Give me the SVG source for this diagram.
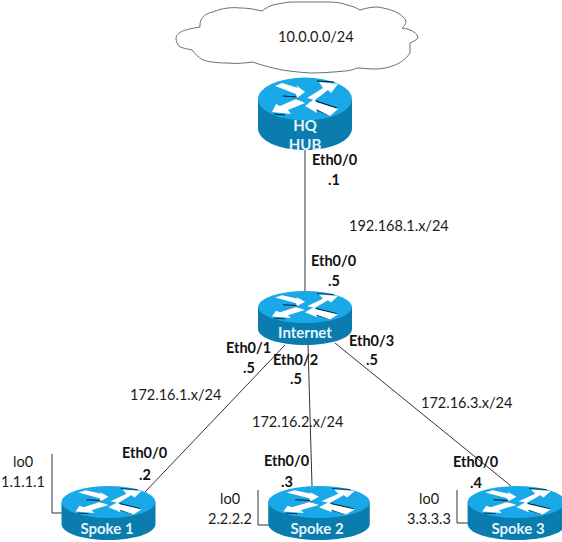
<svg xmlns="http://www.w3.org/2000/svg" width="562" height="542" viewBox="0 0 562 542">
<style>
text{font-family:Lato,"Liberation Sans",Arial,sans-serif;font-size:14.500px;fill:#1a1a1a}
.b{font-weight:bold;fill:#111}
.n{font-weight:bold;fill:#e4f4fa;font-size:15px}
.c{fill:none;stroke:#333;stroke-width:1}
</style>
<defs>
<g id="top">
<ellipse rx="47" ry="21.500" fill="#1aa9e8"/>
<path fill="none" stroke="#0a1a24" stroke-width="1.200" d="M-22-3-8-2M-22 7-7 0M-20 16-31 15M12-18 29-17M10-2 25-11M11 2 32 9M12 11 24 16"/>
<path fill="#fff" d="M-30-13-23-16-7-11-9-14 0-7-8-1-9-5ZM2-1 18-11 14-17 33-15 26-6 23-9 10 1ZM-33 13-29 5-25 7-9 0 0 4-17 11-14 15ZM0 7 9 0 11 3 33 10 25 17 11 10 12 14Z"/>
</g>
<path id="bodyH" fill="#0b7cae" d="M-47 0V29C-47 42-26 51 0 51S47 42 47 29V0Z"/>
<path id="bodyS" fill="#0b7cae" d="M-47 0V22C-47 31-26 38 0 38S47 31 47 22V0Z"/>
</defs>
<rect width="562" height="542" fill="#fff"/>
<g id="connectors">
<path class="c" d="M305 150V292"/>
<path class="c" d="M285 345 145 492"/>
<path class="c" d="M308 345 312 486"/>
<path class="c" d="M335 343 511 486"/>
<path class="c" d="M52 454V513H62"/>
<path class="c" d="M258 490V525H270"/>
<path class="c" d="M457 490V523H470"/>
</g>
<g id="cloud">
<path fill="#fff" stroke="#5f7376" stroke-width="1" d="M176 38C177 33 181 30 200 27 199 18 206 13 213 12 222 8 232 7 240 8 250 8 257 10 262 11 266 8 269 6 273 5 282 3 288 2 293 2L327 2C336 2 342 3 347 5 352 6 357 8 360 10 366 8 372 7 377 7 385 8 398 11 403 17 407 20 407 24 402 28 409 29 414 31 417 35L418 38C415 41 412 42 410 43L410 53C405 60 400 63 395 65 388 68 381 69 375 69 368 69 362 68 357 68 352 70 348 71 345 71 335 72 322 73 310 73 297 72 285 71 273 68 265 66 258 64 253 62 245 63 236 64 227 63 218 63 209 62 203 60 198 57 195 54 192 50 187 49 183 48 180 47 177 44 176 41 176 38Z"/>
<text x="278" y="42">10.0.0.0/24</text>
</g>
<g id="hq">
<use href="#bodyH" transform="translate(305 99)"/>
<use href="#top" transform="translate(305 99)"/>
<text class="n" x="305" y="131" text-anchor="middle">HQ</text>
<text class="n" x="305" y="150" text-anchor="middle">HUB</text>
</g>
<g id="internet">
<use href="#bodyS" transform="translate(305 307)"/>
<use href="#top" transform="translate(305 307) scale(1 .74)"/>
<text class="n" x="305" y="338" text-anchor="middle">Internet</text>
</g>
<g id="spoke1">
<use href="#bodyS" transform="translate(108.500 502)"/>
<use href="#top" transform="translate(108.500 502) scale(1 .74)"/>
<text class="n" x="107" y="534" text-anchor="middle">Spoke 1</text>
</g>
<g id="spoke2">
<use href="#bodyS" transform="translate(319 502) scale(1.08 1)"/>
<use href="#top" transform="translate(319 502) scale(1.08 .74)"/>
<text class="n" x="317" y="534" text-anchor="middle">Spoke 2</text>
</g>
<g id="spoke3">
<use href="#bodyS" transform="translate(516.500 502) scale(1.04 1)"/>
<use href="#top" transform="translate(516.500 502) scale(1.04 .74)"/>
<text class="n" x="518" y="534" text-anchor="middle">Spoke 3</text>
</g>
<g id="labels">
<text class="b" x="312" y="165">Eth0/0</text>
<text class="b" x="328" y="185">.1</text>
<text x="349" y="231">192.168.1.x/24</text>
<text class="b" x="311" y="266">Eth0/0</text>
<text class="b" x="328" y="286">.5</text>
<text class="b" x="226" y="353">Eth0/1</text>
<text class="b" x="243" y="373">.5</text>
<text class="b" x="273" y="365">Eth0/2</text>
<text class="b" x="290" y="384">.5</text>
<text class="b" x="349" y="346">Eth0/3</text>
<text class="b" x="366" y="365">.5</text>
<text x="130" y="400">172.16.1.x/24</text>
<text x="252" y="427">172.16.2.x/24</text>
<text x="421" y="408">172.16.3.x/24</text>
<text class="b" x="122" y="458">Eth0/0</text>
<text class="b" x="139" y="480">.2</text>
<text class="b" x="264" y="466">Eth0/0</text>
<text class="b" x="281" y="487">.3</text>
<text class="b" x="453" y="467">Eth0/0</text>
<text class="b" x="470" y="488">.4</text>
<text x="13" y="467">lo0</text>
<text x="1" y="487">1.1.1.1</text>
<text x="220" y="504">lo0</text>
<text x="208" y="524">2.2.2.2</text>
<text x="419" y="504">lo0</text>
<text x="407" y="524">3.3.3.3</text>
</g>
</svg>
